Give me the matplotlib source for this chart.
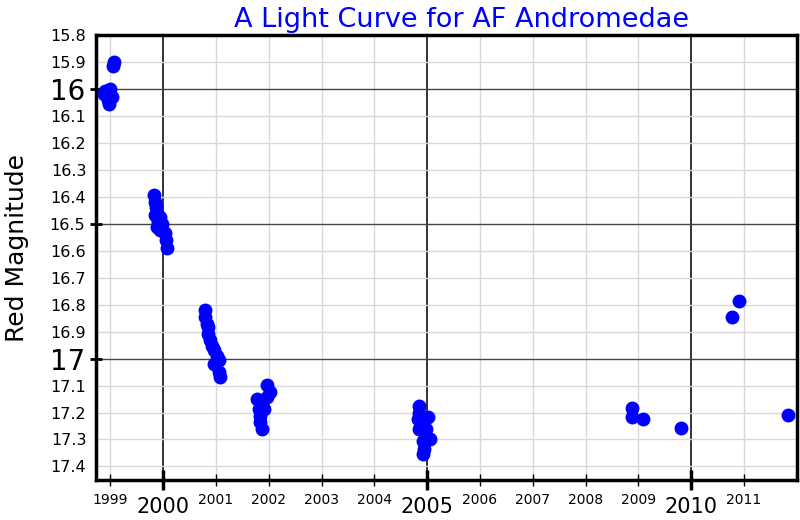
import matplotlib
matplotlib.use("Agg")
import matplotlib.pyplot as plt
from matplotlib.ticker import MultipleLocator, FixedLocator, FuncFormatter

years = [1999.07, 1999.05, 1998.90, 1998.95, 1998.99, 1999.00, 1998.95, 1998.97, 1999.03, 1998.88,
         1999.82, 1999.85, 1999.87, 1999.85, 1999.94, 1999.91, 1999.88, 1999.98, 1999.94, 2000.04, 2000.06, 2000.08,
         2000.80, 2000.80, 2000.83, 2000.86, 2000.86, 2000.89, 2000.93, 2000.96, 2001.02, 2001.05, 2000.96, 2001.05, 2001.08,
         2001.97, 2002.03, 2001.97, 2001.78, 2001.88, 2001.81, 2001.91, 2001.84, 2001.84, 2001.88,
         2004.85, 2004.85, 2004.82, 2005.01, 2004.85, 2004.95, 2005.06, 2004.92, 2004.95, 2004.92, 2004.98,
         2010.91, 2010.77, 2008.87, 2008.88, 2009.08, 2009.81, 2011.84]
magnitudes = [15.90, 15.915, 16.01, 16.015, 16.00, 16.02, 16.04, 16.055, 16.03, 16.02,
              16.394, 16.419, 16.437, 16.468, 16.475, 16.493, 16.512, 16.50, 16.524, 16.535, 16.56, 16.59,
              16.819, 16.846, 16.871, 16.884, 16.908, 16.933, 16.952, 16.97, 16.989, 17.007, 17.02, 17.05, 17.07,
              17.098, 17.125, 17.144, 17.15, 17.168, 17.187, 17.187, 17.212, 17.237, 17.26,
              17.175, 17.20, 17.224, 17.218, 17.26, 17.268, 17.298, 17.305, 17.336, 17.355, 17.26,
              16.787, 16.846, 17.185, 17.216, 17.224, 17.258, 17.208]

major_years = [2000, 2005, 2010]
minor_years = list(range(1999, 2012))
major_mags = [16.0, 16.5, 17.0]

fig = plt.figure(figsize=(8, 5.2), dpi=100)
ax = fig.add_axes([0.12, 0.077, 0.876, 0.856])

ax.plot(years, magnitudes, 'o', color='blue', markersize=9, zorder=5)

ax.set_xlim(1998.73, 2012.0)
ax.set_ylim(17.45, 15.8)

ax.xaxis.set_major_locator(FixedLocator(major_years))
ax.xaxis.set_minor_locator(FixedLocator([y for y in minor_years if y not in major_years]))
ax.xaxis.set_major_formatter(FuncFormatter(lambda v, p: f"{v:.0f}"))
ax.xaxis.set_minor_formatter(FuncFormatter(lambda v, p: f"{v:.0f}"))

ax.yaxis.set_major_locator(FixedLocator(major_mags))
ax.yaxis.set_minor_locator(MultipleLocator(0.1))
ax.yaxis.set_major_formatter(FuncFormatter(lambda v, p: f"{v:g}"))
ax.yaxis.set_minor_formatter(FuncFormatter(lambda v, p: f"{v:.1f}"))

ax.tick_params(axis='x', which='major', direction='inout', length=14, width=2.5, labelsize=15, pad=5)
ax.tick_params(axis='x', which='minor', direction='inout', length=9, width=1, labelsize=10, pad=5)
ax.tick_params(axis='y', which='major', direction='inout', length=8, width=2, labelsize=20, pad=4)
ax.tick_params(axis='y', which='minor', direction='in', length=0, width=0, labelsize=11.5, pad=7)

for lab in ax.get_yticklabels():
    if lab.get_text() == '16.5':
        lab.set_fontsize(11.5)

ax.grid(which='minor', color='#d8d8d8', linewidth=1)
ax.grid(which='major', axis='x', color='#222222', linewidth=1.3)
ax.grid(which='major', axis='y', color='#444444', linewidth=1.0)
ax.set_axisbelow(True)

for s in ax.spines.values():
    s.set_linewidth(2.5)
    s.set_color('black')

ax.set_title('A Light Curve for AF Andromedae', color='blue', fontsize=19.5, pad=6, x=0.521)
ax.set_ylabel('Red Magnitude', fontsize=18)
ax.yaxis.set_label_coords(-0.096, 0.52)

fig.savefig('out.png', dpi=100)
